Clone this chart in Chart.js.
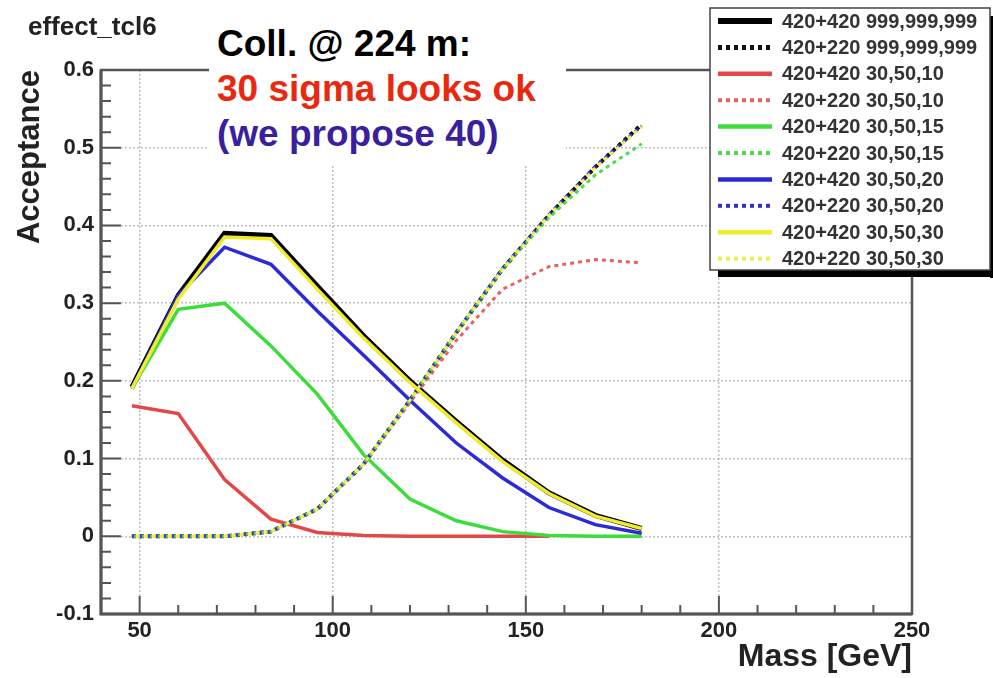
<!DOCTYPE html>
<html>
<head>
<meta charset="utf-8">
<script src="https://cdn.jsdelivr.net/npm/chart.js@4.4.1/dist/chart.umd.min.js"></script>
<style>
  html, body { margin: 0; padding: 0; background: #fff; }
  #wrap { position: relative; width: 993px; height: 678px; font-family: "Liberation Sans", Arial, sans-serif; }
  #title { position: absolute; left: 28px; top: 11px; font-weight: bold; font-size: 26px; color: #222; }
  #note { position: absolute; left: 209px; top: 0; width: 357px; height: 165px; background: #fff;
          font-weight: bold; font-size: 37px; line-height: 45px; padding: 21px 0 0 8px; box-sizing: border-box; }
</style>
</head>
<body>
<div id="wrap">
  <canvas id="acceptanceChart"></canvas>
  <div id="title">effect_tcl6</div>
  <div id="note">
    <div style="color:#000">Coll. @ 224 m:</div>
    <div style="color:#e8290f">30 sigma looks ok</div>
    <div style="color:#3a1f9e">(we propose 40)</div>
  </div>
</div>
<script>
// mass points (GeV)
const mass = [48, 60, 72, 84, 96, 108, 120, 132, 144, 156, 168, 180];

const seriesLabels = [
  "420+420 999,999,999", "420+220 999,999,999",
  "420+420 30,50,10", "420+220 30,50,10",
  "420+420 30,50,15", "420+220 30,50,15",
  "420+420 30,50,20", "420+220 30,50,20",
  "420+420 30,50,30", "420+220 30,50,30"
];

const black420 = [0.192, 0.31, 0.39, 0.387, 0.322, 0.258, 0.2, 0.148, 0.098, 0.056, 0.027, 0.01];
const black220 = [0, 0, 0, 0.006, 0.035, 0.093, 0.175, 0.262, 0.344, 0.413, 0.475, 0.53];
const red420 = [0.168, 0.158, 0.073, 0.022, 0.005, 0.001, 0, 0, 0, 0, null, null];
const red220 = [0, 0, 0, 0.006, 0.035, 0.093, 0.172, 0.252, 0.318, 0.347, 0.356, 0.352];
const green420 = [0.19, 0.292, 0.3, 0.245, 0.183, 0.105, 0.048, 0.02, 0.006, 0.001, 0, 0];
const green220 = [0, 0, 0, 0.006, 0.035, 0.093, 0.175, 0.262, 0.344, 0.41, 0.465, 0.505];
const blue420 = [0.19, 0.31, 0.372, 0.35, 0.29, 0.233, 0.175, 0.12, 0.075, 0.037, 0.015, 0.004];
const blue220 = [0, 0, 0, 0.006, 0.035, 0.093, 0.175, 0.262, 0.345, 0.414, 0.476, 0.528];
const yellow420 = [0.19, 0.305, 0.385, 0.383, 0.318, 0.255, 0.198, 0.146, 0.096, 0.055, 0.026, 0.01];
const yellow220 = [0, 0, 0, 0.006, 0.035, 0.093, 0.175, 0.262, 0.344, 0.413, 0.474, 0.527];

const xTicks = [50, 100, 150, 200, 250];
const xTickLabels = ["50", "100", "150", "200", "250"];
const yTicks = [-0.1, 0, 0.1, 0.2, 0.3, 0.4, 0.5, 0.6];
const yTickLabels = ["-0.1", "0", "0.1", "0.2", "0.3", "0.4", "0.5", "0.6"];

const values = [black420, black220, red420, red220, green420, green220, blue420, blue220, yellow420, yellow220];
const colors = ["#000000", "#111111", "#e34848", "#e86060", "#3ddc3d", "#4cdc4c", "#2a2ad6", "#3030d0", "#f0ec2a", "#f2ee4a"];

function series(i) {
  const dotted = i % 2 === 1;
  return {
    label: seriesLabels[i],
    data: values[i].map((v, k) => ({ x: mass[k], y: v })),
    borderColor: colors[i],
    borderWidth: i === 0 ? 5 : (i === 1 ? 4 : (dotted ? 3 : 3.5)),
    borderDash: dotted ? [4, 4] : [],
    borderDashOffset: i === 9 ? 4 : (i === 7 ? 2 : 0),
    pointRadius: 0,
    tension: 0,
    fill: false,
    spanGaps: false,
    order: values.length - i
  };
}

// ROOT style frame with inner ticks
const frameTicks = {
  id: "frameTicks",
  afterDatasetsDraw(chart) {
    const { ctx, chartArea: a, scales: { x, y } } = chart;
    ctx.save();
    ctx.strokeStyle = "#555";
    ctx.lineWidth = 2.5;
    ctx.strokeRect(a.left, a.top, a.right - a.left, a.bottom - a.top);
    ctx.lineWidth = 3;
    ctx.beginPath();
    ctx.moveTo(a.left, a.top); ctx.lineTo(a.left, a.bottom); ctx.lineTo(a.right, a.bottom);
    ctx.stroke();
    ctx.lineWidth = 2;
    ctx.beginPath();
    for (let v = 50; v < 250; v += 10) {
      const px = x.getPixelForValue(v);
      const len = v % 50 === 0 ? 18 : 9;
      ctx.moveTo(px, a.bottom); ctx.lineTo(px, a.bottom - len);
    }
    for (let k = -4; k < 30; k++) {
      const py = y.getPixelForValue(k * 0.02);
      const len = k % 5 === 0 ? 20 : 10;
      ctx.moveTo(a.left, py); ctx.lineTo(a.left + len, py);
    }
    ctx.stroke();
    ctx.restore();
  }
};

const boxLegend = {
  id: "boxLegend",
  afterDraw(chart) {
    const ctx = chart.ctx;
    const x0 = 710, y0 = 8, w = 280, h = 262;
    ctx.save();
    ctx.fillStyle = "#000";
    ctx.fillRect(x0 + 8, y0 + h, w, 7);
    ctx.fillRect(x0 + w, y0 + 8, 7, h);
    ctx.fillStyle = "#fff";
    ctx.fillRect(x0, y0, w, h);
    ctx.strokeStyle = "#444";
    ctx.lineWidth = 1.5;
    ctx.strokeRect(x0, y0, w, h);
    ctx.font = 'bold 20px "Liberation Sans", Arial, sans-serif';
    ctx.textBaseline = "middle";
    chart.data.datasets.forEach((ds, i) => {
      const yy = y0 + 13 + i * 26.4;
      ctx.beginPath();
      ctx.setLineDash(ds.borderDash);
      ctx.lineDashOffset = 0;
      ctx.strokeStyle = ds.borderColor;
      ctx.lineWidth = ds.borderWidth + 1;
      ctx.moveTo(x0 + 8, yy);
      ctx.lineTo(x0 + 62, yy);
      ctx.stroke();
      ctx.setLineDash([]);
      ctx.fillStyle = "#333";
      ctx.fillText(ds.label, x0 + 72, yy + 1);
    });
    ctx.restore();
  }
};

const tickFont = { family: '"Liberation Sans", Arial, sans-serif', weight: "bold", size: 22 };
const gridColor = "rgba(150,150,150,0.6)";

new Chart(document.getElementById("acceptanceChart"), {
  type: "line",
  data: { datasets: values.map((v, i) => series(i)) },
  options: {
    responsive: true,
    maintainAspectRatio: false,
    animation: false,
    layout: { padding: { top: 70, right: 81, bottom: 0, left: 0 } },
    plugins: { legend: { display: false }, tooltip: { enabled: false } },
    scales: {
      x: {
        type: "linear",
        min: 40,
        max: 250,
        afterBuildTicks: s => { s.ticks = xTicks.map(v => ({ value: v })); },
        afterFit: s => { s.height = 64; },
        ticks: { color: "#222", font: tickFont, padding: 4, maxRotation: 0, callback: (v, i) => xTickLabels[i] },
        grid: { color: gridColor, lineWidth: 1.5, drawTicks: false },
        border: { display: false, dash: [2, 2] },
        title: {
          display: true, text: "Mass [GeV]", align: "end", color: "#222",
          font: { family: '"Liberation Sans", Arial, sans-serif', weight: "bold", size: 32 },
          padding: { top: 0, bottom: 2 }
        }
      },
      y: {
        type: "linear",
        min: -0.1,
        max: 0.6,
        afterBuildTicks: s => { s.ticks = yTicks.map(v => ({ value: v })); },
        afterFit: s => { s.width = 101; },
        ticks: { color: "#222", font: tickFont, padding: 7, callback: (v, i) => yTickLabels[i] },
        grid: { color: gridColor, lineWidth: 1.5, drawTicks: false },
        border: { display: false, dash: [2, 2] },
        title: {
          display: true, text: "Acceptance", align: "end", color: "#222",
          font: { family: '"Liberation Sans", Arial, sans-serif', weight: "bold", size: 31 },
          padding: { top: 12, bottom: 0 }
        }
      }
    }
  },
  plugins: [frameTicks, boxLegend]
});
</script>
</body>
</html>
